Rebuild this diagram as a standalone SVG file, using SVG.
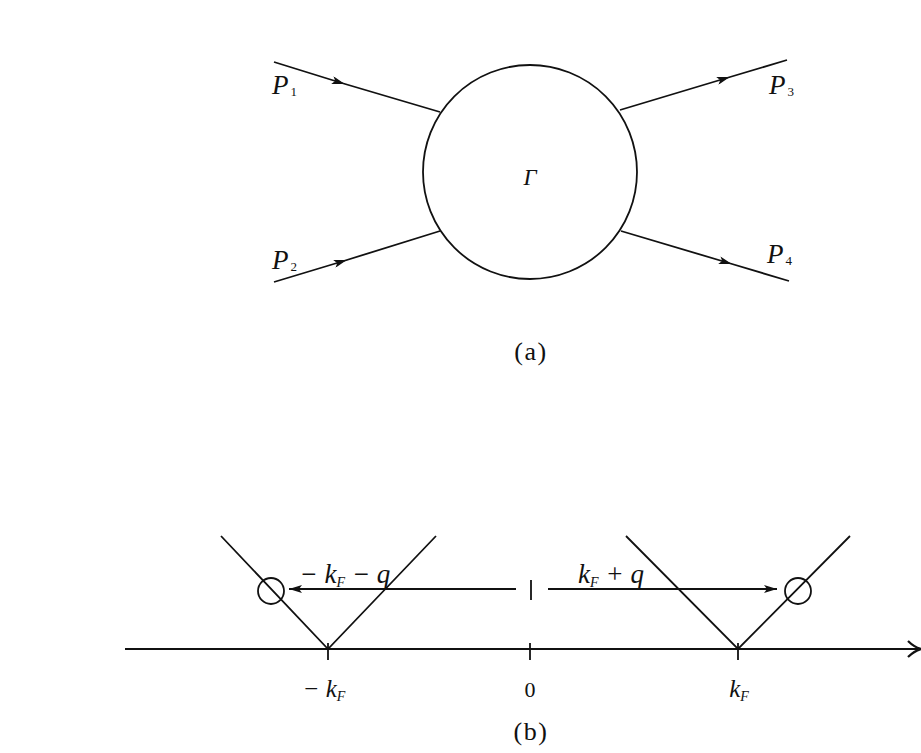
<svg xmlns="http://www.w3.org/2000/svg" width="921" height="753" viewBox="0 0 921 753">
<style>
.ln{stroke:#111;stroke-width:1.8;fill:none}
.t{font-family:"Liberation Serif","Times New Roman",serif;fill:#111}
.i{font-style:italic}
.sub{font-size:13px}
.subk{font-size:14px}
</style>
<defs>
<marker id="mid" viewBox="0 0 13 8" refX="8" refY="4" markerWidth="13" markerHeight="8" markerUnits="userSpaceOnUse" orient="auto">
<path d="M0,0 L13,4 L0,8 L3,4 Z" fill="#111"/>
</marker>
<marker id="end" viewBox="0 0 13 8" refX="13" refY="4" markerWidth="13" markerHeight="8" markerUnits="userSpaceOnUse" orient="auto">
<path d="M0,0 L13,4 L0,8 L3,4 Z" fill="#111"/>
</marker>
</defs>
<rect width="921" height="753" fill="#fff"/>
<g id="vertex">
<circle class="ln" cx="530" cy="172" r="107"/>
<text class="t i" x="530" y="185" font-size="23" text-anchor="middle">Γ</text>
</g>
<g id="connectors">
<path class="ln" d="M274,62 L340,82.5 L440,112" marker-mid="url(#mid)"/>
<path class="ln" d="M274,282 L342,261.5 L440,231" marker-mid="url(#mid)"/>
<path class="ln" d="M620,110 L725,78.5 L787,60" marker-mid="url(#mid)"/>
<path class="ln" d="M621,231 L727,262.5 L789,281" marker-mid="url(#mid)"/>
</g>
<g id="labels-a">
<text class="t i" x="272" y="94" font-size="27">P<tspan class="sub" font-style="normal" dx="2" dy="2">1</tspan></text>
<text class="t i" x="272" y="269" font-size="27">P<tspan class="sub" font-style="normal" dx="2" dy="2">2</tspan></text>
<text class="t i" x="769" y="94" font-size="27">P<tspan class="sub" font-style="normal" dx="2" dy="2">3</tspan></text>
<text class="t i" x="767" y="263" font-size="27">P<tspan class="sub" font-style="normal" dx="2" dy="2">4</tspan></text>
<text class="t" x="531" y="360" font-size="26" letter-spacing="1.5" text-anchor="middle">(a)</text>
</g>
<g id="axis">
<line class="ln" x1="125" y1="649" x2="918" y2="649"/>
<path d="M908,641 Q914,647 921,649 Q914,651 908,657" fill="none" stroke="#111" stroke-width="2.2"/>
<line class="ln" x1="328" y1="643" x2="328" y2="660"/>
<line class="ln" x1="530" y1="643" x2="530" y2="660"/>
<line class="ln" x1="738" y1="643" x2="738" y2="660"/>
</g>
<g id="band-left">
<path class="ln" d="M221,536 L328,649 L436,536"/>
<circle class="ln" cx="271" cy="591" r="13"/>
</g>
<g id="band-right">
<path class="ln" d="M626,536 L738,649 L850,536"/>
<circle class="ln" cx="798" cy="591" r="13"/>
</g>
<g id="transfers">
<line class="ln" x1="531" y1="580" x2="531" y2="600"/>
<line class="ln" x1="516" y1="589" x2="289" y2="589" marker-end="url(#end)"/>
<line class="ln" x1="548" y1="589" x2="777" y2="589" marker-end="url(#end)"/>
</g>
<g id="labels-b">
<text class="t i" x="345" y="583" font-size="27" text-anchor="middle">− k<tspan class="subk" dy="4">F</tspan><tspan dy="-4"> − q</tspan></text>
<text class="t i" x="611" y="583" font-size="27" text-anchor="middle">k<tspan class="subk" dy="4">F</tspan><tspan dy="-4"> + q</tspan></text>
<text class="t i" x="324" y="697" font-size="25" text-anchor="middle">− k<tspan class="subk" dy="4">F</tspan></text>
<text class="t" x="530" y="697" font-size="22" text-anchor="middle">0</text>
<text class="t i" x="739" y="697" font-size="25" text-anchor="middle">k<tspan class="subk" dy="4">F</tspan></text>
<text class="t" x="531" y="740" font-size="26" letter-spacing="1.5" text-anchor="middle">(b)</text>
</g>
</svg>
